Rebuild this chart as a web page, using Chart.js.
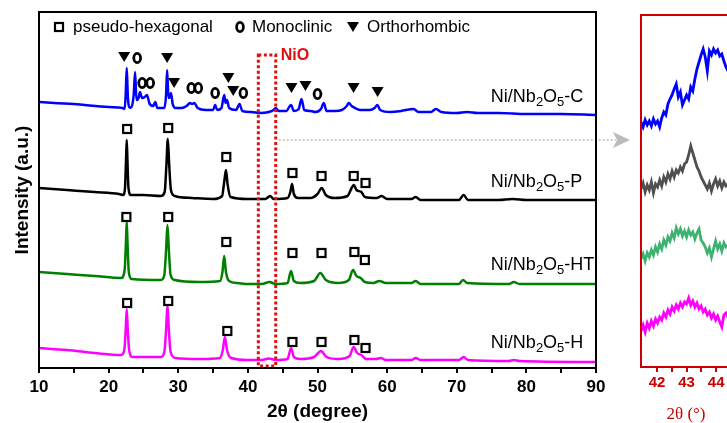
<!DOCTYPE html>
<html>
<head>
<meta charset="utf-8">
<script src="https://cdn.jsdelivr.net/npm/chart.js@4.4.1/dist/chart.umd.min.js"></script>
<style>
  html, body { margin: 0; padding: 0; background: #fff; overflow: hidden; }
  body { width: 727px; height: 423px; position: relative; }
  #graph1 { position: absolute; left: 0; top: 0; }
  #graph2 { position: absolute; left: 600px; top: 0; }
</style>
</head>
<body>
<canvas id="graph1" width="727" height="423"></canvas>
<canvas id="graph2" width="160" height="423"></canvas>
<script>
// XRD patterns, [2theta, intensity a.u.] (curves stacked with offsets)
const traceC = [
  [10, 266], [15, 264], [20, 261], [22.0, 260], [22.3, 259], [22.45, 273], [22.6, 300], [22.75, 273],
  [22.9, 262], [23.1, 260], [23.6, 273], [23.8, 296], [24.0, 268], [24.3, 270], [24.5, 276], [24.8, 270],
  [25.2, 271], [25.5, 273], [25.9, 264], [26.4, 262], [26.7, 266], [27.0, 260], [28.0, 260], [28.25, 273],
  [28.4, 298], [28.6, 270], [28.8, 271], [28.95, 275], [29.2, 264], [29.6, 260], [30.5, 260], [31.2, 262],
  [31.7, 265], [32.0, 264], [32.3, 265], [32.8, 260], [34.0, 258], [35.0, 258], [35.3, 263], [35.6, 258],
  [36.2, 260], [36.6, 273], [36.8, 265], [37.0, 268], [37.3, 260], [38.3, 258], [38.8, 264], [39.2, 257],
  [40.5, 256], [41.8, 255], [43.0, 256], [43.7, 258], [44.0, 260], [44.4, 257], [45.5, 257], [46.2, 263],
  [46.6, 257], [47.3, 259], [47.7, 269], [48.1, 258], [49.0, 257], [49.7, 256], [50.5, 259], [50.9, 265],
  [51.3, 257], [52.5, 257], [53.5, 258], [54.2, 262], [54.5, 265], [54.9, 262], [55.4, 260], [56.2, 258],
  [57.5, 258], [58.2, 260], [58.6, 263], [59.0, 258], [60.5, 256], [62.0, 257], [63.8, 259], [64.5, 256],
  [66.3, 256], [67.0, 259], [67.8, 256], [70.0, 255], [71.5, 256], [73.0, 255], [76.0, 255], [80.0, 254],
  [85.0, 254], [90.0, 253]
];
const traceP = [
  [10, 180], [14, 178], [18, 176], [21.5, 174], [22.1, 173], [22.35, 180], [22.5, 208], [22.6, 228],
  [22.7, 208], [22.85, 180], [23.2, 173], [25, 173], [27.5, 172], [28.05, 176], [28.3, 203], [28.5, 229],
  [28.7, 203], [28.95, 178], [29.5, 172], [32, 170], [35, 169], [36.3, 172], [36.6, 186], [36.85, 198],
  [37.1, 183], [37.5, 171], [40, 169], [42.5, 169], [43.2, 172], [43.7, 169], [45.7, 170], [46.1, 176],
  [46.35, 184], [46.6, 174], [47.2, 170], [49, 170], [50.0, 174], [50.6, 180], [51.2, 173], [52.5, 170],
  [54.3, 172], [54.9, 180], [55.2, 183], [55.6, 178], [56.3, 176], [56.8, 171], [58.5, 170], [59.2, 172],
  [60, 169], [63.5, 169], [64.1, 171], [64.8, 168], [70.3, 168], [71.0, 173], [71.6, 168], [76, 168],
  [78, 169], [80, 168], [90, 168]
];
const traceHT = [
  [10, 96], [14, 94], [18, 92], [21.8, 90], [22.3, 98], [22.5, 128], [22.6, 146], [22.7, 128],
  [22.9, 96], [23.3, 89], [27.5, 88], [28.0, 93], [28.25, 118], [28.45, 143], [28.65, 118], [28.9, 93],
  [29.5, 88], [33, 86], [36.0, 87], [36.35, 96], [36.6, 112], [36.85, 96], [37.3, 87], [38.5, 85],
  [40, 84], [42, 84], [43.1, 86], [44, 84], [45.7, 85], [46.2, 97], [46.6, 87], [47.5, 85],
  [49.5, 87], [50.4, 95], [51.2, 88], [53, 85], [54.5, 88], [55.1, 98], [55.6, 92], [56.2, 90],
  [56.8, 86], [58.0, 85], [58.9, 87], [59.8, 85], [63.5, 85], [64.1, 87], [64.8, 84], [70.3, 84],
  [70.9, 88], [71.5, 85], [77.5, 84], [78.2, 86], [79, 84], [90, 84]
];
const traceH = [
  [10, 20], [14, 18], [18, 15], [21.8, 13], [22.25, 18], [22.45, 38], [22.6, 59], [22.75, 38],
  [22.95, 18], [23.4, 11], [27.5, 11], [28.0, 16], [28.25, 38], [28.45, 63], [28.65, 38], [28.9, 16],
  [29.6, 10], [33, 9], [36.0, 10], [36.4, 18], [36.7, 31], [37.0, 18], [37.6, 10], [40, 8],
  [42.0, 8], [43.0, 9.5], [44.0, 8], [45.7, 9], [46.2, 20], [46.6, 11], [47.5, 9], [49.5, 11],
  [50.5, 17], [51.3, 11], [53, 9], [54.6, 12], [55.2, 21], [55.7, 15], [56.3, 13], [57.0, 9],
  [58.4, 9], [59.1, 10], [59.8, 8], [63.5, 8], [64.1, 10], [64.8, 8], [70.3, 8], [71.0, 11],
  [71.6, 8], [77.5, 7], [78.2, 8], [79, 7], [90, 6]
];

// phase markers, [2theta, intensity]
const squareMarks = [
  [22.66, 239], [28.56, 240], [36.9, 211], [46.4, 195], [50.58, 192], [55.2, 192], [56.9, 185],
  [22.55, 151], [28.56, 151], [36.9, 126], [46.4, 115], [50.58, 115], [55.3, 116], [56.8, 108],
  [22.66, 65], [28.56, 67], [37.05, 37], [46.4, 26], [50.58, 26], [55.3, 28], [56.9, 20]
];
const ringMarks = [
  [24.1, 310], [24.82, 285], [25.97, 285], [31.87, 280], [32.88, 280], [35.3, 275], [39.35, 275], [50.0, 274]
];
const triangleMarks = [
  [22.23, 311], [28.4, 310], [29.4, 285], [37.2, 290], [37.9, 277], [46.26, 280], [48.27, 282], [55.18, 280], [58.63, 276]
];

const sampleNames = ['C', 'P', 'HT', 'H'];
const nameAnchors = [[74.9, 266], [74.9, 181], [74.9, 98], [74.9, 20]];
const nioRange = [41.5, 44.0];

// zoomed 41.5-44.5 region
const insetTheta = [
  41.46, 41.53, 41.60, 41.67, 41.74, 41.81, 41.88, 41.95, 42.02, 42.09, 42.16, 42.23, 42.30, 42.37, 42.44,
  42.51, 42.58, 42.65, 42.72, 42.79, 42.86, 42.93, 43.00, 43.07, 43.14, 43.21, 43.28, 43.35, 43.42, 43.49,
  43.56, 43.63, 43.70, 43.77, 43.84, 43.91, 43.98, 44.05, 44.12, 44.19, 44.26, 44.33, 44.40
];
const insetC = [
  245, 240, 247, 242, 246, 241, 248, 243, 246, 240, 249, 255, 252, 263, 268,
  272, 278, 283, 270, 275, 262, 267, 272, 268, 280, 276, 288, 298, 305, 312,
  318, 310, 296, 316, 312, 318, 314, 317, 311, 313, 306, 300, 296
];
const insetP = [
  178, 184, 175, 182, 177, 185, 174, 183, 180, 187, 181, 190, 185, 193, 188,
  196, 190, 197, 194, 200, 196, 203, 205, 212, 221, 214, 207, 200, 196, 190,
  186, 182, 178, 184, 176, 183, 188, 181, 186, 179, 185, 181, 183
];
const insetHT = [
  108, 113, 106, 114, 110, 117, 112, 120, 115, 123, 118, 127, 122, 130, 126,
  134, 129, 139, 133, 138, 131, 136, 130, 137, 132, 135, 128, 134, 138, 127,
  124, 120, 114, 119, 110, 118, 126, 118, 123, 116, 124, 120, 122
];
const insetH = [
  36, 42, 35, 44, 39, 46, 41, 48, 44, 50, 47, 54, 50, 57, 53,
  60, 56, 62, 58, 64, 60, 65, 63, 69, 62, 66, 60, 64, 58, 61,
  55, 58, 52, 55, 49, 53, 47, 51, 45, 40, 52, 54, 50
];

const FONT = "'Liberation Sans', Arial, sans-serif";
const RED = '#cc0000';
Chart.defaults.font.family = FONT;

function drawMarker(ctx, kind, x, y) {
  ctx.save();
  ctx.strokeStyle = '#000';
  ctx.fillStyle = '#000';
  if (kind === 'square') {
    ctx.lineWidth = 2.2;
    ctx.fillStyle = '#fff';
    ctx.fillRect(x - 4.5, y - 4.5, 9, 9);
    ctx.strokeRect(x - 4, y - 4, 8, 8);
  } else if (kind === 'ring') {
    ctx.lineWidth = 2.8;
    ctx.beginPath();
    ctx.ellipse(x, y, 3.4, 4.6, 0, 0, Math.PI * 2);
    ctx.stroke();
  } else {
    ctx.beginPath();
    ctx.moveTo(x - 6, y - 5);
    ctx.lineTo(x + 6, y - 5);
    ctx.lineTo(x, y + 5);
    ctx.closePath();
    ctx.fill();
  }
  ctx.restore();
}

function drawFormula(ctx, x, y, suffix) {
  const parts = [['Ni/Nb', 0], ['2', 1], ['O', 0], ['5', 1], ['-' + suffix, 0]];
  ctx.textBaseline = 'alphabetic';
  ctx.textAlign = 'left';
  parts.forEach(([t, sub]) => {
    ctx.font = sub ? '13px ' + FONT : '18px ' + FONT;
    ctx.fillText(t, x, y + (sub ? 4 : 0));
    x += ctx.measureText(t).width;
  });
}

const xrdDecor = {
  id: 'xrdDecor',
  afterDatasetsDraw(chart) {
    const {ctx, chartArea: a, scales: {x, y}} = chart;
    ctx.save();

    // NiO window
    const bx0 = x.getPixelForValue(nioRange[0]);
    const bx1 = x.getPixelForValue(nioRange[1]);
    ctx.strokeStyle = '#dd1111';
    ctx.lineWidth = 3;
    ctx.setLineDash([3, 2.5]);
    ctx.strokeRect(bx0, y.getPixelForValue(313), bx1 - bx0, a.bottom - 2 - y.getPixelForValue(313));

    // pointer to the zoomed panel
    const ay = y.getPixelForValue(228);
    ctx.strokeStyle = '#bbbbbb';
    ctx.lineWidth = 1.5;
    ctx.setLineDash([2, 2]);
    ctx.beginPath();
    ctx.moveTo(bx1 + 3, ay);
    ctx.lineTo(a.right + 20, ay);
    ctx.stroke();
    ctx.setLineDash([]);
    ctx.fillStyle = '#bbbbbb';
    ctx.beginPath();
    ctx.moveTo(a.right + 34, ay);
    ctx.lineTo(a.right + 17, ay - 8);
    ctx.lineTo(a.right + 21, ay);
    ctx.lineTo(a.right + 17, ay + 8);
    ctx.closePath();
    ctx.fill();

    ctx.fillStyle = '#dd1111';
    ctx.font = 'bold 16px ' + FONT;
    ctx.textBaseline = 'middle';
    ctx.fillText('NiO', bx1 + 5, y.getPixelForValue(313) + 1);

    // frame
    ctx.strokeStyle = '#000';
    ctx.lineWidth = 2;
    ctx.strokeRect(a.left, a.top, a.right - a.left, a.bottom - a.top);

    squareMarks.forEach(([t, v]) => drawMarker(ctx, 'square', x.getPixelForValue(t), y.getPixelForValue(v)));
    ringMarks.forEach(([t, v]) => drawMarker(ctx, 'ring', x.getPixelForValue(t), y.getPixelForValue(v)));
    triangleMarks.forEach(([t, v]) => drawMarker(ctx, 'triangle', x.getPixelForValue(t), y.getPixelForValue(v)));

    // legend
    const ly = a.top + 15;
    ctx.fillStyle = '#000';
    ctx.font = '17px ' + FONT;
    ctx.textBaseline = 'middle';
    ctx.textAlign = 'left';
    drawMarker(ctx, 'square', a.left + 20, ly);
    ctx.fillText('pseudo-hexagonal', a.left + 34, ly);
    drawMarker(ctx, 'ring', a.left + 201, ly);
    ctx.fillText('Monoclinic', a.left + 213, ly);
    drawMarker(ctx, 'triangle', a.left + 314, ly);
    ctx.fillText('Orthorhombic', a.left + 328, ly);

    ctx.fillStyle = '#000';
    sampleNames.forEach((n, i) => {
      drawFormula(ctx, x.getPixelForValue(nameAnchors[i][0]), y.getPixelForValue(nameAnchors[i][1]), n);
    });
    ctx.restore();
  }
};

const ctx = document.querySelector('#graph1').getContext('2d');
const ctx2 = document.querySelector('#graph2').getContext('2d');

const mainChart = new Chart(ctx, {
  type: 'line',
  data: {
    datasets: [
      {label: 'Ni/Nb2O5-C', data: traceC, borderColor: '#0000ff'},
      {label: 'Ni/Nb2O5-P', data: traceP, borderColor: '#000000'},
      {label: 'Ni/Nb2O5-HT', data: traceHT, borderColor: '#008000'},
      {label: 'Ni/Nb2O5-H', data: traceH, borderColor: '#ff00ff'}
    ]
  },
  plugins: [xrdDecor],
  options: {
    responsive: false,
    animation: false,
    layout: {padding: {left: 0, right: 131, top: 12, bottom: 0}},
    elements: {
      point: {radius: 0},
      line: {borderWidth: 2.5, cubicInterpolationMode: 'monotone'}
    },
    plugins: {legend: {display: false}, tooltip: {enabled: false}},
    scales: {
      x: {
        type: 'linear', min: 10, max: 90,
        ticks: {
          stepSize: 5, autoSkip: false, maxRotation: 0, padding: 4, color: '#000',
          font: {size: 17, weight: 'bold'},
          callback: v => (v % 10 === 0 ? v : '')
        },
        grid: {drawOnChartArea: false, tickLength: 5, color: '#000', lineWidth: 2},
        border: {display: false},
        title: {display: true, text: '2θ (degree)', color: '#000', font: {size: 19, weight: 'bold'}, padding: {top: 0, bottom: 0}},
        afterFit: s => { s.height = 55; }
      },
      y: {
        type: 'linear', min: 0, max: 356,
        ticks: {display: false},
        grid: {display: false},
        border: {display: false},
        title: {display: true, text: 'Intensity (a.u.)', color: '#000', font: {size: 19, weight: 'bold'}, padding: {top: 11, bottom: 0}},
        afterFit: s => { s.width = 39; }
      }
    }
  }
});

const insetFrame = {
  id: 'insetFrame',
  afterDatasetsDraw(chart) {
    const {ctx, chartArea: a} = chart;
    ctx.save();
    ctx.strokeStyle = RED;
    ctx.lineWidth = 2;
    ctx.strokeRect(a.left, a.top, a.right - a.left, a.bottom - a.top);
    ctx.restore();
  }
};

const toPoints = vals => insetTheta.map((t, i) => ({x: t, y: vals[i]}));

const insetChart = new Chart(ctx2, {
  type: 'line',
  data: {
    datasets: [
      {data: toPoints(insetC), borderColor: '#0000ff'},
      {data: toPoints(insetP), borderColor: '#505050'},
      {data: toPoints(insetHT), borderColor: '#3cb371'},
      {data: toPoints(insetH), borderColor: '#ff00ff'}
    ]
  },
  plugins: [insetFrame],
  options: {
    responsive: false,
    animation: false,
    layout: {padding: {left: 41, right: 29, top: 15, bottom: 0}},
    elements: {point: {radius: 0}, line: {borderWidth: 2.8, tension: 0}},
    plugins: {legend: {display: false}, tooltip: {enabled: false}},
    scales: {
      x: {
        type: 'linear', min: 41.46, max: 44.5,
        afterBuildTicks: s => { s.ticks = [42, 42.5, 43, 43.5, 44].map(v => ({value: v})); },
        ticks: {
          autoSkip: false, maxRotation: 0, padding: 2, color: RED,
          font: {size: 15, weight: 'bold'},
          callback: v => (Number.isInteger(v) ? v : '')
        },
        grid: {drawOnChartArea: false, tickLength: 5, color: RED, lineWidth: 2},
        border: {display: false},
        title: {display: true, text: '2θ (°)', color: RED, font: {family: "'Liberation Serif', 'Times New Roman', serif", size: 17, lineHeight: 1}, padding: {top: 0, bottom: 0}},
        afterFit: s => { s.height = 56; }
      },
      y: {type: 'linear', min: 0, max: 352, display: false}
    }
  }
});
</script>
</body>
</html>
